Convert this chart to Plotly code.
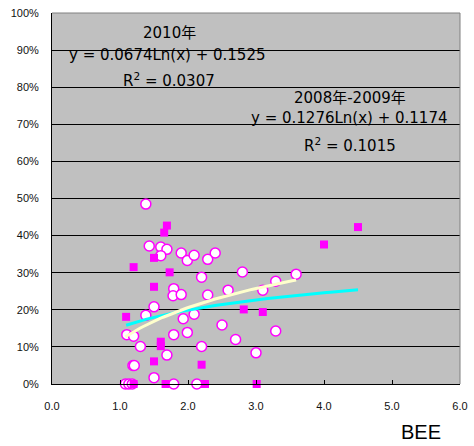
import numpy as np
import plotly.graph_objects as go

# 2008-2009 (open circles)
bee_0809 = [1.38, 1.43, 1.60, 1.69, 1.60, 1.90, 1.99, 2.09, 2.29, 2.40, 2.20, 2.80,
            1.79, 1.78, 1.90, 2.29, 2.59, 3.10, 3.29, 3.59, 1.50, 1.38, 1.93, 2.09,
            1.10, 1.20, 1.79, 1.99, 2.50, 2.70, 3.29, 1.30, 2.20, 1.69, 3.00, 1.19,
            1.21, 1.50, 1.08, 1.13, 1.18, 1.79, 2.13]
val_0809 = [0.485, 0.372, 0.369, 0.363, 0.346, 0.353, 0.333, 0.347, 0.336, 0.353, 0.288, 0.302,
            0.257, 0.238, 0.241, 0.240, 0.253, 0.253, 0.277, 0.296, 0.208, 0.185, 0.176, 0.188,
            0.133, 0.129, 0.133, 0.139, 0.159, 0.120, 0.143, 0.101, 0.101, 0.078, 0.084, 0.050,
            0.050, 0.017, 0.0, 0.0, 0.0, 0.0, 0.0]

# 2010 (filled squares)
bee_2010 = [1.69, 1.65, 1.50, 1.20, 1.73, 1.50, 4.00, 4.50, 1.09, 2.82, 3.10, 1.60,
            1.60, 1.50, 2.20, 1.20, 1.67, 2.25, 3.01]
val_2010 = [0.427, 0.408, 0.340, 0.315, 0.301, 0.262, 0.376, 0.423, 0.181, 0.201, 0.194, 0.114,
            0.102, 0.061, 0.052, 0.0, 0.0, 0.0, 0.0]

# logarithmic trendline coefficients (from chart labels)
a_2010, b_2010, r2_2010 = 0.0674, 0.1525, 0.0307
a_0809, b_0809, r2_0809 = 0.1276, 0.1174, 0.1015

x_ticks = [0, 1, 2, 3, 4, 5, 6]
y_ticks = [i / 10 for i in range(11)]

MAG = "#FF00FF"
font_main = "Liberation Sans, Arial, Noto Sans CJK JP, sans-serif"
font_ann = "DejaVu Sans, Noto Sans CJK JP, sans-serif"

fig = go.Figure()

fig.add_trace(go.Scatter(
    x=bee_0809, y=val_0809, mode="markers",
    marker=dict(symbol="circle", size=10, color="white", line=dict(color=MAG, width=1.5)),
    showlegend=False, cliponaxis=False))

fig.add_trace(go.Scatter(
    x=bee_2010, y=val_2010, mode="markers",
    marker=dict(symbol="square", size=8, color=MAG, line=dict(width=0)),
    showlegend=False, cliponaxis=False))

xs_2010 = np.linspace(min(bee_2010), max(bee_2010), 60)
xs_0809 = np.linspace(min(bee_0809), max(bee_0809), 60)

fig.add_trace(go.Scatter(x=xs_2010, y=a_2010 * np.log(xs_2010) + b_2010, mode="lines",
                         line=dict(color="#00FFFF", width=3), showlegend=False))
fig.add_trace(go.Scatter(x=xs_0809, y=a_0809 * np.log(xs_0809) + b_0809, mode="lines",
                         line=dict(color="#FFFFCC", width=3), showlegend=False))

ann_font = dict(family=font_ann, size=15, color="black")
annotations = [
    dict(x=1.735, y=0.946, text="2010年"),
    dict(x=1.70, y=0.887, text=f"y = {a_2010:.4f}Ln(x) + {b_2010:.4f}"),
    dict(x=1.72, y=0.819, text=f"R<sup>2</sup> = {r2_2010:.4f}"),
    dict(x=4.38, y=0.771, text="2008年-2009年"),
    dict(x=4.38, y=0.717, text=f"y = {a_0809:.4f}Ln(x) + {b_0809:.4f}"),
    dict(x=4.38, y=0.644, text=f"R<sup>2</sup> = {r2_0809:.4f}"),
]
for a in annotations:
    a.update(xref="x", yref="y", showarrow=False, font=ann_font, xanchor="center", yanchor="middle")

annotations.append(dict(x=0.904, y=-0.129, xref="paper", yref="paper", text="BEE",
                        showarrow=False, font=dict(family=font_main, size=20, color="black"),
                        xanchor="center", yanchor="middle"))

fig.update_layout(
    width=474, height=446,
    margin=dict(l=52, r=14, t=13, b=62, autoexpand=False),
    paper_bgcolor="white", plot_bgcolor="#C0C0C0",
    annotations=annotations,
    shapes=[
        dict(type="line", xref="paper", yref="paper", x0=1, x1=1, y0=0, y1=1,
             line=dict(color="#808080", width=1)),
        dict(type="line", xref="paper", yref="paper", x0=0, x1=1, y0=1, y1=1,
             line=dict(color="#808080", width=1)),
    ],
)

fig.update_xaxes(range=[0, 6], tickvals=x_ticks, tickformat=".1f", showgrid=False,
                 zeroline=False, showline=True, linecolor="black", linewidth=1,
                 ticks="inside", ticklen=4, tickcolor="black", automargin=False,
                 tickfont=dict(family=font_main, size=11, color="#111"),
                 ticklabelstandoff=12)
fig.update_yaxes(range=[0, 1], tickvals=y_ticks, tickformat=".0%", showgrid=True,
                 gridcolor="black", gridwidth=1, zeroline=False, automargin=False,
                 showline=True, linecolor="black", linewidth=1,
                 tickfont=dict(family=font_main, size=11, color="#111"),
                 ticklabelstandoff=10)

fig.write_html("out.html", config={"displayModeBar": False},
               post_script="document.body.style.margin='0';")
